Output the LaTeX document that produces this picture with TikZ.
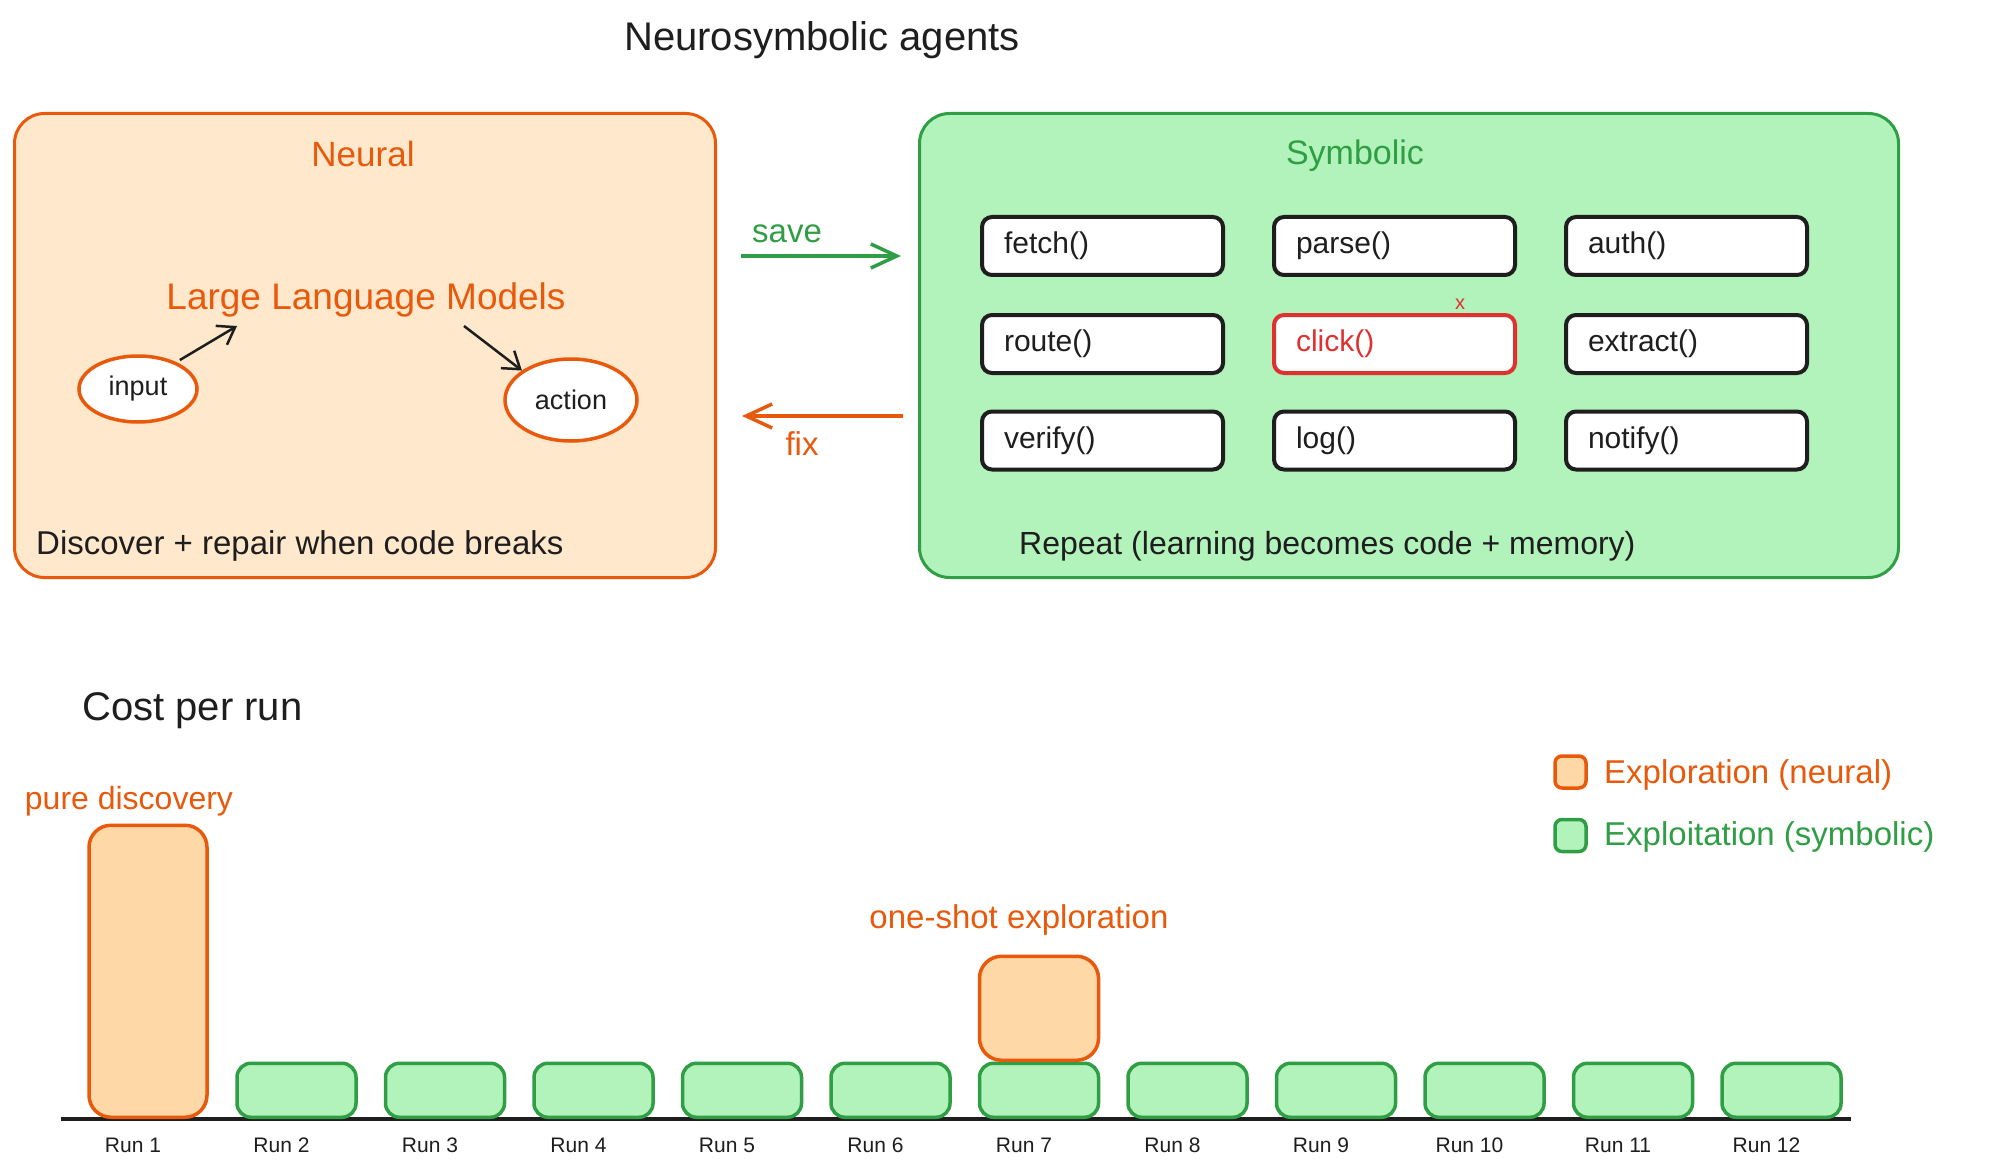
\documentclass[tikz,border=0pt]{standalone}
\usepackage{fontspec}
\setmainfont{Liberation Sans}
\usetikzlibrary{shapes.geometric,arrows.meta,calc}
\definecolor{ink}{HTML}{1E1E1E}
\definecolor{orangeS}{HTML}{E8590C}
\definecolor{orangeF}{HTML}{FFE8CC}
\definecolor{orangeB}{HTML}{FFD8A8}
\definecolor{greenS}{HTML}{2F9E44}
\definecolor{greenF}{HTML}{B2F2BB}
\definecolor{redS}{HTML}{E03131}
\tikzset{
  txt/.style={inner sep=0pt, text=ink, font=\fontsize{32pt}{38pt}\selectfont},
  neuralpanel/.style={draw=orangeS, fill=orangeF, line width=3pt, rounded corners=30pt, minimum width=701pt, minimum height=464pt, inner sep=0pt},
  symbpanel/.style={draw=greenS, fill=greenF, line width=3pt, rounded corners=30pt, minimum width=979pt, minimum height=464pt, inner sep=0pt},
  fnbox/.style={draw=ink, fill=white, line width=4pt, rounded corners=10pt, minimum height=58pt, text width=197pt, inner xsep=22pt, inner ysep=0pt, align=left, text=ink, font=\fontsize{30pt}{36pt}\selectfont},
  failbox/.style={fnbox, draw=redS, text=redS},
  bubble/.style={ellipse, draw=orangeS, fill=white, line width=3.5pt, text=ink, font=\fontsize{27pt}{32pt}\selectfont, inner sep=0pt},
  smallarrow/.style={draw=ink, line width=2.5pt, -{Straight Barb[length=16pt,width=22pt]}},
  savearrow/.style={draw=greenS, line width=3.5pt, -{Straight Barb[length=26pt,width=24pt]}},
  fixarrow/.style={draw=orangeS, line width=3.5pt, -{Straight Barb[length=26pt,width=24pt]}},
  greenbar/.style={draw=greenS, fill=greenF, line width=3.5pt, rounded corners=14pt, minimum width=119pt, minimum height=54pt, anchor=south, inner sep=0pt},
  orangebar/.style={draw=orangeS, fill=orangeB, line width=3.5pt, rounded corners=22pt, minimum width=118pt, anchor=south, inner sep=0pt},
  runlabel/.style={inner sep=0pt, text=ink, font=\fontsize{21pt}{25pt}\selectfont},
  legbox/.style={line width=3.5pt, rounded corners=7pt, minimum width=31pt, minimum height=32pt, inner sep=0pt}
}
\begin{document}
\begin{tikzpicture}[x=1pt,y=-1pt]
\useasboundingbox[fill=white] (0,0) rectangle (1999,1174);

% title
\node[txt, font=\fontsize{40pt}{48pt}\selectfont] (title) at (822,40) {Neurosymbolic agents};

% panels
\node[neuralpanel] (neural) at (365,345.5) {};
\node[symbpanel] (symbolic) at (1409,345.5) {};

\node[txt, text=orangeS, font=\fontsize{35pt}{42pt}\selectfont] (neuraltitle) at (363,154) {Neural};
\node[txt, text=greenS, font=\fontsize{34pt}{41pt}\selectfont] (symbtitle) at (1355,156) {Symbolic};

% neural content
\node[txt, text=orangeS, font=\fontsize{37pt}{44pt}\selectfont] (llm) at (366,300) {Large Language Models};
\node[bubble, minimum width=118pt, minimum height=66pt] (input) at (138,389) {input};
\node[bubble, minimum width=132pt, minimum height=82pt] (action) at (571,400) {action};
\coordinate (llmin) at (237,326);
\coordinate (llmout) at (464,326);
\draw[smallarrow, shorten <=4pt] (input.35) -- (llmin);
\draw[smallarrow] (llmout) -- (action.149);
\node[txt, anchor=west, font=\fontsize{33pt}{40pt}\selectfont] (discover) at (36,546) {Discover + repair when code breaks};

% symbolic content
\node[fnbox] (fetch) at (1102.5,246) {fetch()};
\node[fnbox] (parse) at (1394.5,246) {parse()};
\node[fnbox] (auth) at (1686.5,246) {auth()};
\node[fnbox] (route) at (1102.5,344) {route()};
\node[failbox] (click) at (1394.5,344) {click()};
\node[fnbox] (extract) at (1686.5,344) {extract()};
\node[fnbox] (verify) at (1102.5,440.5) {verify()};
\node[fnbox] (log) at (1394.5,440.5) {log()};
\node[fnbox] (notify) at (1686.5,440.5) {notify()};
\node[txt, text=redS, font=\fontsize{20pt}{24pt}\selectfont] (failmark) at (1460,304) {x};
\node[txt, anchor=west] (repeat) at (1019,546) {Repeat (learning becomes code + memory)};

% save / fix
\draw[savearrow, shorten <=24pt, shorten >=17pt] ([yshift=89.5pt]neural.east) -- ([yshift=89.5pt]symbolic.west);
\node[txt, text=greenS, font=\fontsize{33pt}{40pt}\selectfont] (savelbl) at (787,234) {save};
\draw[fixarrow, shorten <=15pt, shorten >=25pt] ([yshift=-70.5pt]symbolic.west) -- ([yshift=-70.5pt]neural.east);
\node[txt, text=orangeS, font=\fontsize{33pt}{40pt}\selectfont] (fixlbl) at (802,444) {fix};

% chart
\node[txt, anchor=west, font=\fontsize{40pt}{48pt}\selectfont] (cost) at (82,711) {Cost per run};
\coordinate (axisL) at (61,1119);
\coordinate (axisR) at (1851,1119);
\draw[draw=ink, line width=4pt] (axisL) -- (axisR);
\node[orangebar, minimum height=292pt] (run1) at (148,1119) {};
\foreach \i in {2,...,12} {
  \node[greenbar] (run\i) at ({148+(\i-1)*148.5},1119) {};
}
\node[orangebar, minimum width=119pt, minimum height=104pt] (run7top) at (1039,1062) {};
\foreach \i in {1,...,12} {
  \node[runlabel] (lbl\i) at ([xshift=-15pt, yshift=-26pt]run\i.south) {Run \i};
}
\node[txt, text=orangeS] (pure) at (129,801) {pure discovery};
\node[txt, text=orangeS, font=\fontsize{33pt}{40pt}\selectfont] (oneshot) at (1019,920) {one-shot exploration};

% legend
\node[legbox, draw=orangeS, fill=orangeB] (legexp) at (1570.5,772) {};
\node[txt, anchor=west, text=orangeS, font=\fontsize{33pt}{40pt}\selectfont] (legexptxt) at (1604,775) {Exploration (neural)};
\node[legbox, draw=greenS, fill=greenF] (legexl) at (1570.5,835.5) {};
\node[txt, anchor=west, text=greenS, font=\fontsize{33pt}{40pt}\selectfont] (legexltxt) at (1604,837) {Exploitation (symbolic)};
\end{tikzpicture}
\end{document}
